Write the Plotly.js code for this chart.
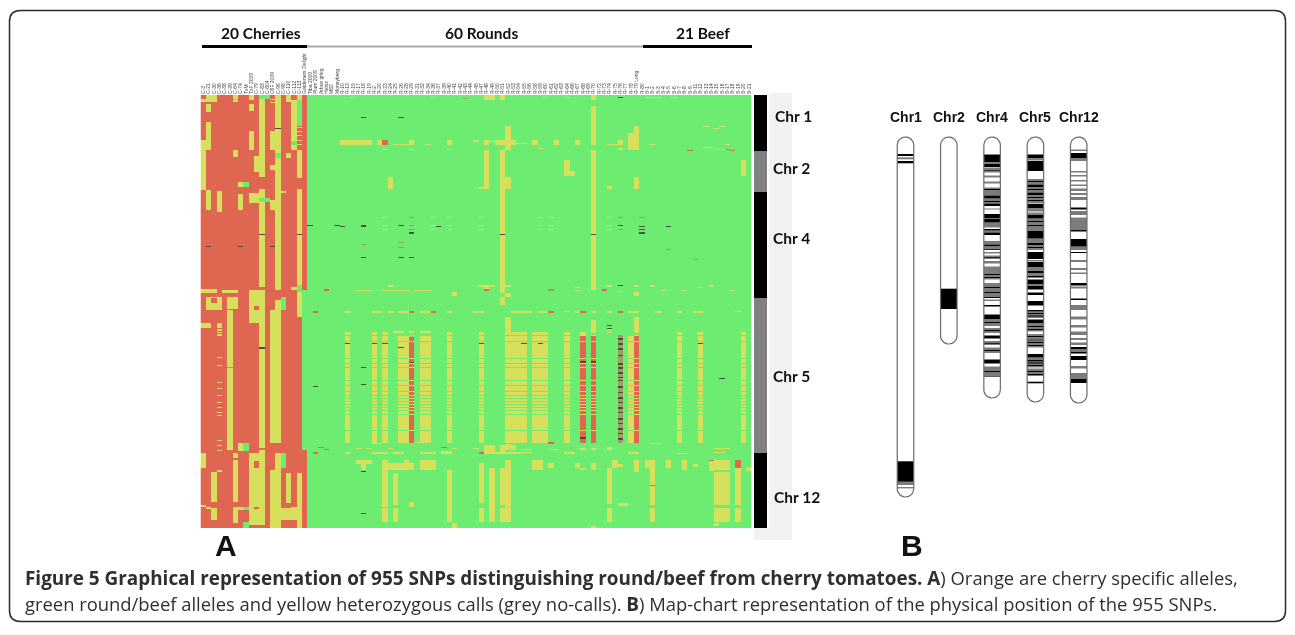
<!DOCTYPE html>
<html><head><meta charset="utf-8">
<script src="https://cdn.plot.ly/plotly-3.0.1.min.js"></script>
<style>html,body{margin:0;padding:0;background:#fff}#chart{width:1295px;height:635px;filter:blur(0.35px)}</style>
</head><body><div id="chart"></div>
<script>
// ---------- Panel A data: sample names (columns), SNP bins (rows) ----------
const sampleLabels = ["C-3","C-21","C-30","C-36","C-38","C-39","C-64","C-74","TxM","TxF 2009","C-79","C-83","C-604","C6F 2009","C-96","C-98","C-110","C-112","C-113","Gardeners Delight",
"Tiba 2009","Plum 2009","Arbus grieg","Heinz","M82","Moneyberg","R-10","R-13","R-15","R-17","R-18","R-19","R-2","R-20","R-23","R-24","R-25","R-26","R-28","R-29","R-31","R-32","R-34","R-36","R-37","R-39","R-40","R-41","R-42","R-43","R-44","R-45","R-47","R-48","R-49","R-50","R-51","R-52","R-53","R-54","R-55","R-56","R-58","R-59","R-60","R-61","R-62","R-63","R-64","R-66","R-67","R-68","R-69","R-70","R-72","R-73","R-74","R-75","R-76","R-77","R-78","R-79 Long","R-80",
"B-1","B-2","B-3","B-4","B-5","B-6","B-7","B-8","B-9","B-11","B-12","B-13","B-14","B-15","B-16","B-17","B-18","B-19","B-20","B-21"];
const rowCount = 433;
const cherryCount = 20;
const callColors = ["#6DEC72","#D6E05C","#DF6650","#4A4D40","#9AA060"]; // round, het, cherry, no-call, smeared no-call
// blocks: [first sample, last sample, first bin, end bin]
const yellowBlocks = [
[1,2,0,7],[0,0,4,7],[6,6,0,7],[9,9,0,5],[11,11,0,82],[14,14,0,33],[14,14,34,195],[16,16,0,7],[18,18,0,5],[17,17,5,55],
[1,1,9,17],[9,9,9,16],[1,1,27,55],[0,0,45,95],[9,9,36,55],[6,6,55,62],[10,10,61,77],[13,13,36,55],[18,18,55,83],
[18,18,32,33],[18,18,36,37],[18,18,40,41],[18,18,45,46],[18,18,49,50],[13,13,70,75],[16,16,58,63],[7,7,87,92],
[11,11,94,192],[11,11,202,353],[9,10,98,108],[1,1,95,115],[3,3,96,117],[7,7,99,115],[13,13,105,115],[15,15,96,98],[18,18,94,222],
[13,13,4,5],[13,13,7,8],[14,14,205,348],[13,13,215,348],[17,18,192,195],
[0,2,194,198],[4,6,195,198],[9,11,195,202],[1,3,202,215],[5,6,202,214],[9,11,202,211],[9,9,211,228],[10,10,215,228],
[5,5,215,355],[0,1,228,233],[3,3,228,233],[3,3,234,236],[3,3,237,238],[3,3,239,241],[3,3,262,263],[3,3,270,271],[3,3,287,288],[3,3,293,294],
[3,3,300,301],[3,3,307,308],[3,3,312,313],[3,3,317,318],[3,3,320,321],[3,3,345,346],[3,3,350,351],[3,3,355,356],[7,7,348,356],
[0,0,358,373],[6,6,358,363],[9,10,358,367],[11,11,355,373],[9,9,367,425],[9,11,373,412],[13,13,375,433],[14,14,358,433],[16,16,378,408],[18,18,378,433],
[2,2,377,407],[6,6,365,407],[3,3,375,377],[0,0,410,412],[2,2,413,425],[1,1,412,414],[6,6,412,428],[7,7,412,415],[9,11,412,430],[15,16,413,425],[17,17,412,425],
// rounds and beefs: long columns on chr 5
[27,27,237,348],[32,32,237,348],[34,34,237,348],[37,38,240,348],[41,42,240,348],[46,46,237,348],[52,52,237,348],[57,57,222,348],[58,60,237,348],
[62,64,237,348],[68,68,237,348],[80,80,240,348],[89,89,237,348],[93,93,237,348],[101,101,237,348],
[36,37,236,238],[39,39,236,238],[41,42,236,238],[71,71,237,240],[73,73,225,238],[81,81,222,238],[57,57,222,238],[76,76,234,235],[76,76,236,238],
[32,33,348,349],[37,42,347,348],
// chr 1/2
[26,31,45,50],[33,33,45,50],[39,39,45,50],[46,46,45,50],[51,51,45,47],[53,53,45,50],[55,55,45,50],[57,57,31,55],[56,58,45,50],[54,54,46,47],
[34,34,54,55],[39,39,54,55],[46,46,54,55],[53,53,55,94],[52,52,92,94],[56,56,55,190],[57,57,82,94],[56,56,82,94],[35,35,82,94],
[53,54,0,5],[56,56,0,5],[73,73,0,5],[73,73,11,50],[73,73,55,190],[62,62,45,50],[66,66,45,50],[70,70,45,50],[68,68,65,81],[69,69,76,81],
[78,78,45,50],[78,78,53,55],[80,80,38,55],[81,81,31,55],[76,76,91,94],[81,81,82,94],[101,101,65,81],[58,60,48,49],[76,77,49,50],[63,63,53,54],[36,38,49,50],[42,42,49,50],
[94,94,31,32],[96,96,33,34],[97,97,31,32],[84,84,49,50],[94,95,52,53],[96,98,54,55],[98,98,49,50],
// chr 4 sparse
[34,34,122,123],[43,43,122,123],[46,46,122,123],[52,52,122,123],[63,63,122,123],[65,65,122,123],[76,76,122,123],
[34,34,130,131],[43,43,130,131],[46,46,130,131],[52,52,130,131],[63,63,130,131],[65,65,130,131],[76,76,130,131],
[34,34,134,135],[43,43,134,135],[46,46,134,135],[52,52,134,135],[63,63,134,135],[65,65,134,135],[76,76,134,135],
[28,28,2,3],[43,43,2,3],[68,68,2,3],[83,85,2,3],[88,88,2,3],[64,64,2,3],
// chr 4/5 boundary rows
[57,57,190,192],[76,76,190,192],[81,81,190,192],[84,84,190,192],[95,95,190,192],[35,35,190,192],[70,70,192,193],[52,54,190,192],[53,53,192,194],
[29,31,195,196],[34,38,195,196],[40,42,195,196],[47,47,197,201],[56,56,185,198],[57,57,198,202],[56,56,202,210],[73,73,190,195],[76,76,190,191],
[81,81,197,201],[70,70,195,196],[78,78,196,197],[86,86,195,196],[90,90,195,196],[93,93,192,193],[99,99,195,196],
[27,27,216,218],[32,33,216,218],[35,35,216,218],[37,38,216,218],[41,42,216,218],[46,46,216,218],[51,52,216,218],[58,61,216,218],[63,64,216,218],[68,68,216,217],[70,70,216,218],[73,73,216,218],[76,76,216,218],
[80,81,216,218],[85,85,216,218],[89,89,216,218],[92,93,216,218],[100,100,216,217],
[29,29,353,354],[31,31,353,354],[35,35,353,354],[51,51,353,354],[53,54,350,357],[56,56,350,357],[57,57,349,354],[56,58,350,355],[60,61,354,355],[65,66,354,355],[71,71,353,355],[73,73,353,355],[76,76,352,355],[84,85,348,349],[96,98,353,354],
[27,27,357,359],[32,34,357,359],[36,37,357,359],[41,43,357,359],[45,46,356,359],[47,47,353,354],[53,59,357,359],[60,61,357,358],[68,69,357,359],[80,81,357,359],[89,90,358,359],[96,97,357,358],
// chr 12
[29,31,365,369],[30,30,369,375],[34,34,365,412],[34,34,413,427],[35,39,368,375],[38,38,365,375],[36,36,378,410],[36,36,413,427],[39,39,407,412],[41,43,365,375],[46,46,375,427],[47,47,428,433],
[52,52,368,408],[52,52,413,427],[54,54,373,427],[56,56,373,410],[56,56,413,427],[57,57,365,427],[62,63,365,375],[65,65,368,373],[70,70,368,373],[71,71,373,375],[73,73,368,375],[73,73,431,433],
[76,76,373,409],[76,76,413,427],[77,77,365,373],[78,78,369,372],[78,79,408,411],[81,81,365,377],[83,84,365,373],[84,84,373,410],[84,84,413,427],[87,87,365,373],[90,90,365,375],[92,92,369,372],
[95,95,365,376],[96,98,365,375],[96,98,377,410],[96,98,413,427],[96,96,428,431],[100,100,365,410],[100,100,413,427],[102,102,372,376]
];
const orangeBlocks = [
[2,2,203,208],[10,10,366,373],[10,10,412,414],
[39,39,242,348],[71,71,240,348],[73,73,240,348],[81,81,240,348],[34,34,45,50],
[23,23,194,196],[53,53,194,196],[75,75,194,196],[21,21,216,218],[39,39,216,218],[43,43,216,218],[65,65,216,218],[71,71,216,218],[78,78,216,218],
[21,21,357,359],[52,52,357,359],[22,22,352,353],[23,23,354,355],[45,45,352,353],[65,65,347,349],[91,91,55,56],[99,99,55,56],[100,100,365,373],[84,84,390,391],[95,95,365,366]
];
const greenBlocks = [
[18,18,5,31],[6,6,4,5],[17,17,46,50],[14,14,58,63],[8,8,87,92],[11,12,103,107],[19,19,195,355],[18,18,190,197],[15,15,202,215],[8,8,348,356],[15,15,358,373],[8,8,412,415],[8,8,427,433],[11,12,0,4]
];
const noCallBlocks = [
[30,30,22,23],[37,37,22,23],[20,20,130,131],[25,25,130,131],[26,26,131,132],[30,30,130,132],[37,37,130,131],[44,44,131,132],[39,39,137,139],[11,11,139,140],[18,18,139,140],[56,56,139,140],[73,73,139,140],
[1,1,151,152],[7,7,151,152],[13,13,151,152],[30,30,162,163],[37,37,162,163],[39,39,162,163],[78,78,2,3],[78,78,130,131],[82,82,131,132],[82,82,134,135],[82,82,137,139],[87,87,131,132],[78,78,190,191],[14,14,33,34],
[27,27,248,249],[32,32,248,249],[34,34,248,249],[37,37,252,253],[52,52,248,249],[30,30,272,273],[30,30,289,290],[30,30,376,377],[30,30,418,419],[21,21,291,292],[60,60,248,249],[63,63,248,249],[93,93,248,249],[97,97,283,284],
[39,39,267,268],[39,39,335,336],[71,71,266,268],[71,71,342,344],[73,73,266,268],[73,73,335,336],[76,76,230,231],[76,76,233,234],[78,78,243,245],[78,78,248,250],[78,78,253,255],[78,78,260,261],[78,78,268,270],[78,78,272,274],[78,78,277,279],
[78,78,282,283],[78,78,285,286],[78,78,291,293],[78,78,297,298],[78,78,302,304],[78,78,307,308],[78,78,312,314],[78,78,317,318],[78,78,323,325],[78,78,328,329],[78,78,333,335],[78,78,338,339],[78,78,343,345],[11,11,252,254]
];
const smearBlocks = [
[49,49,3,4],[39,39,122,123],[78,78,122,123],[82,82,122,123],[39,39,130,131],[39,39,134,135],[78,78,134,135],[30,30,149,150],[37,37,147,148],[37,37,152,153],[87,87,154,155],[92,92,164,165],
[78,78,240,348],[65,65,194,196],[5,5,272,273],[98,98,54,55]
];
// horizontal white-ish lines running through the long chr-5 columns
const stripeRows = [240,246,263,268,272,285,290,296,300,303,306,309,312,315,319,335];
const stripeYellowCols = [27,32,34,37,38,41,42,46,52,57,58,59,60,62,63,64,68,80,89,93,101];
const stripeOrangeCols = [39,71,73,81];

// chromosome bar next to panel A (bins)
const chrBarNames = ["Chr 1","Chr 2","Chr 4","Chr 5","Chr 12"];
const chrBarStart = [0,56,97,203,358];
const chrBarSize = [56,41,106,155,75];
const chrBarColor = ["#000000","#808080","#000000","#808080","#000000"];

// ---------- Panel B data: map chart ----------
const mapNames = ["Chr1","Chr2","Chr4","Chr5","Chr12"];
const mapLengths = [360,207,261,265,266];
const blackBands = {
 Chr1:[[17,19],[24,26.3],[324.3,344.7],[350.5,351.2]],
 Chr2:[[151.7,172]],
 Chr4:[[17.5,25.5],[26.5,30],[33,33.6],[52,53],[58.5,61.5],[64,65],[66.5,69],[77,81],[82,85.5],[92,93.5],[95.5,98],[107.5,109],[112,112.7],[120,120.7],[137,138],[140,141],[150,151],[155,156],[160,161],[168,169.5],[177.5,182],[185,186],[193,194],[198.5,201.5],[206,206.7],[213,214],[222.5,226.5],[234,235],[239.5,240]],
 Chr5:[[17.5,21.5],[24,34],[44,45],[47.5,50],[52,53],[55.5,58],[60,61],[63,64],[67,71.5],[78,81.5],[84,85],[88,89],[93.5,101.5],[105.5,108],[110,111],[115,122],[125,130],[133.5,136.5],[139,140],[142.5,147],[149,152.5],[155.5,158],[164,168.5],[173,174.5],[176,177],[178.5,179.5],[182.5,186],[189,190],[192,193],[199,200],[202.5,203.5],[205,206],[208,209],[217,220.5],[223,224.5],[225.5,226.5],[228,229],[234,235],[237,238],[244.7,246.3]],
 Chr12:[[16,21.5],[70.5,72.5],[93,94.5],[102,109.5],[115,116],[146,148.5],[161.5,163],[210,212],[215,216.5],[219,223],[241.5,246]]
};
const greyBands = {
 Chr1:[[20.3,22.3],[344.7,348]],
 Chr2:[],
 Chr4:[[30.5,35.5],[38.5,40.5],[44.5,46.5],[50.5,58.5],[61.5,66.5],[71.5,72.5],[81,82],[85.5,90.5],[93.5,95.5],[104,107.5],[109,113],[115,116.5],[118.5,122],[124,126.5],[129.5,133],[133,137],[138,142.5],[146,150],[151,160],[162.5,164],[182,189],[191,196],[204,208],[210.5,216],[229.5,234],[235,239.5]],
 Chr5:[[22,23.5],[42,47.5],[50,55.5],[58,66.5],[72,74.5],[75.5,78],[81.5,93],[101.5,105],[108,113],[123,124.5],[130,133],[137,141],[147,149],[174.5,181],[186,194.5],[197,202.5],[203.5,210.5],[220.5,223],[224.5,230.5],[231.5,239]],
 Chr12:[[12.5,14],[22,24],[34,35.5],[38,39.5],[43,44.5],[47.5,49],[51.5,54],[56,58],[60,63],[74,78],[80.5,93],[109.5,113],[123,125],[131,133],[135.5,137],[149.5,151.5],[168,173],[179.5,182.5],[188,190.5],[194.5,198],[201,203],[205.5,208],[212,215],[229,231.5],[236,241]]
};

// ---------- geometry helpers (pixels of the 1295x635 figure) ----------
const W = 1295, H = 635;
const fx = p => p / W, fy = p => 1 - p / H;
const heatLeft = 200.5, heatRight = 751.6, heatTop = 95, heatBottom = 528;
const mapSpacing = 43.3, mapBarPx = 16.5, mapLeft = 890, mapRight = 1095, mapTop = 137, mapBottom = 497, mapFirst = 905.5;

// ---------- build matrix ----------
const z = [];
for (let r = 0; r < rowCount; r++) {
  const row = [];
  for (let c = 0; c < sampleLabels.length; c++) row.push(c < cherryCount ? 2 : 0);
  z.push(row);
}
const paint = (blocks, v) => blocks.forEach(b => {
  for (let r = b[2]; r < Math.min(b[3], rowCount); r++) for (let c = b[0]; c <= b[1]; c++) z[r][c] = v;
});
paint(yellowBlocks, 1); paint(orangeBlocks, 2); paint(greenBlocks, 0); paint(smearBlocks, 4); paint(noCallBlocks, 3);
stripeRows.forEach(r => {
  stripeYellowCols.forEach(c => { z[r][c] = 0; });
  stripeOrangeCols.forEach(c => { z[r][c] = 1; });
});

const colCenters = sampleLabels.map((_, i) => i + 0.5);
const rowCenters = z.map((_, i) => i + 0.5);
const n = callColors.length - 1;
const colorscale = [];
callColors.forEach((col, i) => { colorscale.push([i / (n + 1), col]); colorscale.push([(i + 1) / (n + 1), col]); });

const traces = [{
  type: 'heatmap', x: colCenters, y: rowCenters, z: z, zmin: 0, zmax: n + 1,
  colorscale: colorscale, showscale: false, hoverongaps: false, xaxis: 'x', yaxis: 'y'
}, {
  type: 'bar', x: chrBarNames.map(() => 0.5), base: chrBarStart, y: chrBarSize, width: 1,
  marker: { color: chrBarColor, line: { width: 0 } }, xaxis: 'x2', yaxis: 'y', showlegend: false, text: chrBarNames, hoverinfo: 'text', textposition: 'none'
}];

// map chart bands
function bandTrace(bands, color) {
  const xs = [], base = [], len = [];
  mapNames.forEach((name, i) => bands[name].forEach(b => { xs.push(i); base.push(b[0]); len.push(b[1] - b[0]); }));
  return { type: 'bar', x: xs, base: base, y: len, width: mapBarPx / mapSpacing,
    marker: { color: color, line: { width: 0 } }, xaxis: 'x3', yaxis: 'y3', showlegend: false, hoverinfo: 'skip' };
}
traces.push(bandTrace(greyBands, '#7c7c7c'), bandTrace(blackBands, '#000000'));

// chromosome outlines with rounded telomeres
mapNames.forEach((name, i) => {
  const rPx = mapBarPx / 2, xs = [], ys = [];
  for (let k = 0; k <= 16; k++) { const a = Math.PI * k / 16; xs.push(i - Math.cos(a) * rPx / mapSpacing); ys.push(rPx - Math.sin(a) * rPx); }
  for (let k = 0; k <= 16; k++) { const a = Math.PI * k / 16; xs.push(i + Math.cos(a) * rPx / mapSpacing); ys.push(mapLengths[i] - rPx + Math.sin(a) * rPx); }
  xs.push(xs[0]); ys.push(ys[0]);
  traces.push({ type: 'scatter', mode: 'lines', x: xs, y: ys, line: { color: '#6a6a6a', width: 1.2 }, xaxis: 'x3', yaxis: 'y3', showlegend: false, hoverinfo: 'skip', name: name });
});

const boldSans = 'Lato, "Open Sans", sans-serif';
const ann = (text, px, py, size, family, extra) => Object.assign({
  text: text, x: fx(px), y: fy(py), xref: 'paper', yref: 'paper', showarrow: false,
  font: { size: size, family: family, color: '#111' }, xanchor: 'center', yanchor: 'middle'
}, extra || {});
const capFamily = '"Open Sans", sans-serif';
const capFont = { size: 18.4, family: capFamily, color: '#2f2f2f' };
const capBold = t => '<b><span style="font-size:18.9px">' + t + '</span></b>';

const annotations = [
  ann('<b>20 Cherries</b>', 261, 33, 15.5, boldSans),
  ann('<b>60 Rounds</b>', 481, 33, 15.5, boldSans),
  ann('<b>21 Beef</b>', 703, 33, 15.5, boldSans),
  ann('<b>Chr 1</b>', 793, 116, 15.5, boldSans),
  ann('<b>Chr 2</b>', 792, 168, 15.5, boldSans),
  ann('<b>Chr 4</b>', 792, 238, 15.5, boldSans),
  ann('<b>Chr 5</b>', 792, 376, 15.5, boldSans),
  ann('<b>Chr 12</b>', 797, 497, 15.5, boldSans),
  ann('<b>A</b>', 226, 545, 30, '"Liberation Sans", Arial, sans-serif'),
  ann('<b>B</b>', 912, 545, 30, '"Liberation Sans", Arial, sans-serif'),
  ann(capBold('Figure 5 Graphical representation of 955 SNPs distinguishing round/beef from cherry tomatoes. A') + ') Orange are cherry specific alleles,', 23, 578, 18.4, capFamily, { xanchor: 'left', font: capFont }),
  ann('green round/beef alleles and yellow heterozygous calls (grey no-calls). ' + capBold('B') + ') Map-chart representation of the physical position of the 955 SNPs.', 23, 604, 18.4, capFamily, { xanchor: 'left', font: capFont })
];
mapNames.forEach((name, i) => annotations.push(ann('<b>' + name + '</b>', mapFirst + i * mapSpacing, 117, 14, '"Liberation Sans Narrow", "Liberation Sans", sans-serif')));

const rect = (x0, y0, x1, y1, color, layer) => ({ type: 'rect', xref: 'paper', yref: 'paper', x0: fx(x0), x1: fx(x1), y0: fy(y0), y1: fy(y1), fillcolor: color, line: { width: 0 }, layer: layer || 'below' });
// rounded frame around the figure
const fL = 9.5, fR = 1285.5, fT = 10.5, fB = 621.5, rad = 11;
const framePath = `M ${fL + rad} ${fT} L ${fR - rad} ${fT} Q ${fR} ${fT} ${fR} ${fT + rad} L ${fR} ${fB - rad} Q ${fR} ${fB} ${fR - rad} ${fB} L ${fL + rad} ${fB} Q ${fL} ${fB} ${fL} ${fB - rad} L ${fL} ${fT + rad} Q ${fL} ${fT} ${fL + rad} ${fT} Z`;
const shapes = [
  { type: 'path', xref: 'x4', yref: 'y4', path: framePath, line: { color: '#2b2b2b', width: 1.5 }, fillcolor: 'rgba(0,0,0,0)' },
  rect(769, 93, 792, 540, '#f2f2f2'),
  rect(754, 528, 792, 540, '#f2f2f2'),
  rect(202, 45, 307, 48, '#000000', 'above'),
  rect(307, 45.5, 643, 47.5, '#aaaaaa', 'above'),
  rect(643, 45, 752, 48, '#000000', 'above')
];

const off = { visible: false, fixedrange: true };
const layout = {
  width: W, height: H, margin: { l: 0, r: 0, t: 0, b: 0, pad: 0 }, paper_bgcolor: '#fff', plot_bgcolor: 'rgba(0,0,0,0)',
  showlegend: false, barmode: 'overlay', hovermode: false,
  xaxis: { domain: [fx(heatLeft), fx(heatRight)], range: [0, sampleLabels.length], side: 'top', anchor: 'y', tickmode: 'array', tickvals: colCenters, ticktext: sampleLabels,
    tickangle: -90, tickfont: { size: 5, color: '#444', family: '"Liberation Sans", sans-serif' }, ticks: '', showgrid: false, zeroline: false, showline: false, fixedrange: true, automargin: false },
  yaxis: Object.assign({ domain: [fy(heatBottom), fy(heatTop)], range: [rowCount, 0], anchor: 'x' }, off),
  xaxis2: Object.assign({ domain: [fx(754), fx(767)], range: [0, 1], anchor: 'y' }, off),
  xaxis3: Object.assign({ domain: [fx(mapLeft), fx(mapRight)], range: [(mapLeft - mapFirst) / mapSpacing, (mapRight - mapFirst) / mapSpacing], anchor: 'y3' }, off),
  yaxis3: Object.assign({ domain: [fy(mapBottom + 1), fy(mapTop - 1)], range: [361, -1], anchor: 'x3' }, off),
  xaxis4: Object.assign({ domain: [0, 1], range: [0, W], anchor: 'y4' }, off),
  yaxis4: Object.assign({ domain: [0, 1], range: [H, 0], anchor: 'x4' }, off),
  annotations: annotations, shapes: shapes
};
traces.push({ type: 'scatter', x: [], y: [], xaxis: 'x4', yaxis: 'y4', showlegend: false, hoverinfo: 'skip' });
Plotly.newPlot('chart', traces, layout, { displayModeBar: false, staticPlot: true });
</script></body></html>
